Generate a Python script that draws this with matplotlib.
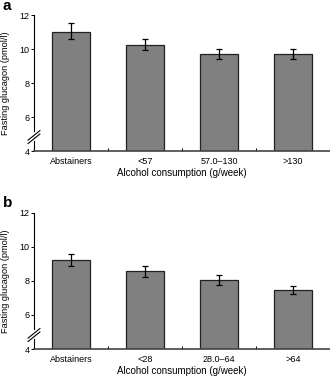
import matplotlib
matplotlib.use("Agg")
import matplotlib.pyplot as plt

plt.rcParams['font.family'] = ['Liberation Sans', 'DejaVu Sans']

# Panel a
cats_a = ["Abstainers", "<57", "57.0\u2013130", ">130"]
vals_a = [10.98, 10.27, 9.69, 9.72]
lo_a = [10.62, 9.92, 9.40, 9.44]
hi_a = [11.55, 10.60, 9.98, 10.03]

# Panel b
cats_b = ["Abstainers", "<28", "28.0\u201364", ">64"]
vals_b = [9.22, 8.57, 8.05, 7.48]
lo_b = [8.88, 8.25, 7.78, 7.25]
hi_b = [9.55, 8.90, 8.35, 7.70]

yticks = [4, 6, 8, 10, 12]


def draw_panel(ax, cats, vals, lo, hi, letter):
    x = list(range(len(cats)))
    err = [[v - l for v, l in zip(vals, lo)], [h - v for v, h in zip(vals, hi)]]
    ax.bar(x, [v - 4 for v in vals], bottom=4, width=0.52, color="#808080",
           edgecolor="#222222", linewidth=0.9, zorder=2)
    ax.errorbar(x, vals, yerr=err, fmt="none", ecolor="black", elinewidth=0.9,
                capsize=2.2, capthick=0.9, zorder=3)

    ax.set_xlim(-0.5, len(cats) - 0.5)
    ax.set_ylim(4, 12)
    ax.set_yticks(yticks)
    ax.set_xticks(x)
    ax.set_xticklabels(cats, fontsize=6.5)
    ax.set_xticks([i + 0.5 for i in x[:-1]], minor=True)
    ax.tick_params(axis="x", which="major", length=0, pad=4.5)
    ax.tick_params(axis="x", which="minor", length=2, width=0.7, direction="in")
    ax.tick_params(axis="y", labelsize=6.5, length=2, width=0.7, pad=1)

    for s in ["top", "right"]:
        ax.spines[s].set_visible(False)
    ax.spines["left"].set_linewidth(0.8)
    ax.spines["bottom"].set_linewidth(1.2)
    ax.spines["bottom"].set_color("#444444")

    ax.set_xlabel("Alcohol consumption (g/week)", fontsize=7, labelpad=1.5)
    ax.set_ylabel("Fasting glucagon (pmol/l)", fontsize=6.6)
    ax.yaxis.set_label_coords(-0.08, 0.5)

    # axis break marks
    tr = ax.transAxes
    ax.plot([0, 0], [0.09, 0.13], transform=tr, color="white", lw=2,
            clip_on=False, zorder=5)
    for dy in (0.0, 0.025):
        ax.plot([-0.02, 0.02], [0.055 + dy, 0.125 + dy], transform=tr,
                color="black", lw=0.8, clip_on=False, zorder=6)

    ax.text(-0.105, 1.12, letter, transform=tr, fontsize=11, fontweight="bold",
            ha="left", va="top")


fig = plt.figure(figsize=(3.3, 3.78), dpi=100)
ax_a = fig.add_axes([0.103, 0.6005, 0.897, 0.3595])
ax_b = fig.add_axes([0.103, 0.0767, 0.897, 0.3605])

draw_panel(ax_a, cats_a, vals_a, lo_a, hi_a, "a")
draw_panel(ax_b, cats_b, vals_b, lo_b, hi_b, "b")

fig.savefig("out.png", dpi=100)
